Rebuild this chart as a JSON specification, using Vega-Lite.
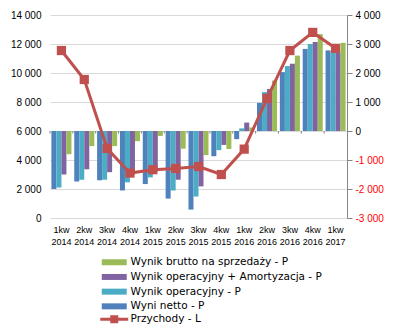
{
  "$schema": "https://vega.github.io/schema/vega-lite/v6.json",
  "autosize": {"type": "none"},
  "padding": {"left": 50, "top": 15, "right": 51, "bottom": 112},
  "width": 297,
  "height": 203,
  "background": "white",
  "config": {
    "view": {"stroke": null},
    "font": "Liberation Sans",
    "axis": {"labelFont": "Liberation Sans", "labelFontSize": 10, "labelColor": "#000000", "labelOverlap": false},
    "legend": {"labelFont": "DejaVu Sans", "labelFontSize": 10.5, "labelColor": "#000000", "labelLimit": 300}
  },
  "datasets": {
    "bars": [
      {"q": "1kw 2014", "s": "Wyni netto - P", "v": -2000},
      {"q": "1kw 2014", "s": "Wynik operacyjny - P", "v": -1950},
      {"q": "1kw 2014", "s": "Wynik operacyjny + Amortyzacja - P", "v": -1500},
      {"q": "1kw 2014", "s": "Wynik brutto na sprzedaży - P", "v": -800},
      {"q": "2kw 2014", "s": "Wyni netto - P", "v": -1740},
      {"q": "2kw 2014", "s": "Wynik operacyjny - P", "v": -1680},
      {"q": "2kw 2014", "s": "Wynik operacyjny + Amortyzacja - P", "v": -1320},
      {"q": "2kw 2014", "s": "Wynik brutto na sprzedaży - P", "v": -520},
      {"q": "3kw 2014", "s": "Wyni netto - P", "v": -1700},
      {"q": "3kw 2014", "s": "Wynik operacyjny - P", "v": -1680},
      {"q": "3kw 2014", "s": "Wynik operacyjny + Amortyzacja - P", "v": -1420},
      {"q": "3kw 2014", "s": "Wynik brutto na sprzedaży - P", "v": -520},
      {"q": "4kw 2014", "s": "Wyni netto - P", "v": -2050},
      {"q": "4kw 2014", "s": "Wynik operacyjny - P", "v": -1770},
      {"q": "4kw 2014", "s": "Wynik operacyjny + Amortyzacja - P", "v": -1500},
      {"q": "4kw 2014", "s": "Wynik brutto na sprzedaży - P", "v": -350},
      {"q": "1kw 2015", "s": "Wyni netto - P", "v": -1830},
      {"q": "1kw 2015", "s": "Wynik operacyjny - P", "v": -1600},
      {"q": "1kw 2015", "s": "Wynik operacyjny + Amortyzacja - P", "v": -1400},
      {"q": "1kw 2015", "s": "Wynik brutto na sprzedaży - P", "v": -170},
      {"q": "2kw 2015", "s": "Wyni netto - P", "v": -2330},
      {"q": "2kw 2015", "s": "Wynik operacyjny - P", "v": -2050},
      {"q": "2kw 2015", "s": "Wynik operacyjny + Amortyzacja - P", "v": -1680},
      {"q": "2kw 2015", "s": "Wynik brutto na sprzedaży - P", "v": -610},
      {"q": "3kw 2015", "s": "Wyni netto - P", "v": -2710},
      {"q": "3kw 2015", "s": "Wynik operacyjny - P", "v": -2260},
      {"q": "3kw 2015", "s": "Wynik operacyjny + Amortyzacja - P", "v": -1910},
      {"q": "3kw 2015", "s": "Wynik brutto na sprzedaży - P", "v": -830},
      {"q": "4kw 2015", "s": "Wyni netto - P", "v": -870},
      {"q": "4kw 2015", "s": "Wynik operacyjny - P", "v": -660},
      {"q": "4kw 2015", "s": "Wynik operacyjny + Amortyzacja - P", "v": -480},
      {"q": "4kw 2015", "s": "Wynik brutto na sprzedaży - P", "v": -620},
      {"q": "1kw 2016", "s": "Wyni netto - P", "v": -280},
      {"q": "1kw 2016", "s": "Wynik operacyjny - P", "v": 90},
      {"q": "1kw 2016", "s": "Wynik operacyjny + Amortyzacja - P", "v": 290},
      {"q": "1kw 2016", "s": "Wynik brutto na sprzedaży - P", "v": 120},
      {"q": "2kw 2016", "s": "Wyni netto - P", "v": 970},
      {"q": "2kw 2016", "s": "Wynik operacyjny - P", "v": 1340},
      {"q": "2kw 2016", "s": "Wynik operacyjny + Amortyzacja - P", "v": 1450},
      {"q": "2kw 2016", "s": "Wynik brutto na sprzedaży - P", "v": 1740},
      {"q": "3kw 2016", "s": "Wyni netto - P", "v": 2030},
      {"q": "3kw 2016", "s": "Wynik operacyjny - P", "v": 2240},
      {"q": "3kw 2016", "s": "Wynik operacyjny + Amortyzacja - P", "v": 2320},
      {"q": "3kw 2016", "s": "Wynik brutto na sprzedaży - P", "v": 2600},
      {"q": "4kw 2016", "s": "Wyni netto - P", "v": 2830},
      {"q": "4kw 2016", "s": "Wynik operacyjny - P", "v": 3000},
      {"q": "4kw 2016", "s": "Wynik operacyjny + Amortyzacja - P", "v": 3070},
      {"q": "4kw 2016", "s": "Wynik brutto na sprzedaży - P", "v": 3340},
      {"q": "1kw 2017", "s": "Wyni netto - P", "v": 2780},
      {"q": "1kw 2017", "s": "Wynik operacyjny - P", "v": 2700},
      {"q": "1kw 2017", "s": "Wynik operacyjny + Amortyzacja - P", "v": 2700},
      {"q": "1kw 2017", "s": "Wynik brutto na sprzedaży - P", "v": 3040}
    ],
    "line": [
      {"q": "1kw 2014", "s": "Przychody - L", "v": 11550},
      {"q": "2kw 2014", "s": "Przychody - L", "v": 9550},
      {"q": "3kw 2014", "s": "Przychody - L", "v": 4800},
      {"q": "4kw 2014", "s": "Przychody - L", "v": 3100},
      {"q": "1kw 2015", "s": "Przychody - L", "v": 3330},
      {"q": "2kw 2015", "s": "Przychody - L", "v": 3420},
      {"q": "3kw 2015", "s": "Przychody - L", "v": 3550},
      {"q": "4kw 2015", "s": "Przychody - L", "v": 3000},
      {"q": "1kw 2016", "s": "Przychody - L", "v": 4750},
      {"q": "2kw 2016", "s": "Przychody - L", "v": 8250},
      {"q": "3kw 2016", "s": "Przychody - L", "v": 11550},
      {"q": "4kw 2016", "s": "Przychody - L", "v": 12800},
      {"q": "1kw 2017", "s": "Przychody - L", "v": 11700}
    ]
  },
  "encoding": {
    "x": {
      "field": "q",
      "type": "nominal",
      "scale": {
        "domain": ["1kw 2014", "2kw 2014", "3kw 2014", "4kw 2014", "1kw 2015", "2kw 2015", "3kw 2015", "4kw 2015", "1kw 2016", "2kw 2016", "3kw 2016", "4kw 2016", "1kw 2017"],
        "paddingInner": 0,
        "paddingOuter": 0
      },
      "axis": {
        "title": null,
        "domain": false,
        "ticks": false,
        "labelAngle": 0,
        "labelFontSize": 9,
        "labelOverlap": false,
        "labelExpr": "split(datum.label, ' ')",
        "labelPadding": 7,
        "labelLineHeight": 12
      }
    }
  },
  "layer": [
    {
      "layer": [
        {
          "data": {"name": "bars"},
          "mark": {"type": "bar"},
          "encoding": {
            "xOffset": {
              "field": "s",
              "type": "nominal",
              "sort": ["Wyni netto - P", "Wynik operacyjny - P", "Wynik operacyjny + Amortyzacja - P", "Wynik brutto na sprzedaży - P"],
              "scale": {"paddingInner": 0, "paddingOuter": 0.28}
            },
            "y": {
              "field": "v",
              "type": "quantitative",
              "scale": {"domain": [-3000, 4000], "nice": false, "zero": false},
              "axis": {
                "orient": "right",
                "title": null,
                "values": [-3000, -2000, -1000, 0, 1000, 2000, 3000, 4000],
                "tickCount": 20,
                "labelOverlap": false,
                "grid": false,
                "domain": true,
                "domainColor": "#868686",
                "ticks": true,
                "tickColor": "#868686",
                "tickSize": 5,
                "labelPadding": 3,
                "labelExpr": "replace(replace(format(datum.value, ','), ',', ' '), '\u2212', '-')",
                "labelColor": {"condition": {"test": "datum.value < 0", "value": "#FF0000"}, "value": "#000000"}
              }
            },
            "color": {
              "field": "s",
              "type": "nominal",
              "scale": {
                "domain": ["Wynik brutto na sprzedaży - P", "Wynik operacyjny + Amortyzacja - P", "Wynik operacyjny - P", "Wyni netto - P"],
                "range": ["#9BBB59", "#8064A2", "#4BACC6", "#4F81BD"]
              },
              "legend": {
                "title": null,
                "orient": "none",
                "legendX": 59,
                "legendY": 242,
                "symbolType": "M-2.5,-0.6H2.5V0.6H-2.5Z",
                "symbolSize": 100,
                "symbolStrokeWidth": 0,
                "symbolOpacity": 1,
                "labelOffset": 11,
                "rowPadding": 3.7
              }
            }
          }
        },
        {
          "data": {"name": "line"},
          "mark": {"type": "rule", "color": "#868686", "strokeWidth": 1},
          "encoding": {"y": {"datum": 0, "type": "quantitative"}}
        },
        {
          "data": {"name": "line"},
          "mark": {"type": "rule", "color": "#868686", "strokeWidth": 1},
          "encoding": {
            "x": {"field": "q", "type": "nominal", "bandPosition": 0},
            "y": {"datum": 0, "type": "quantitative"},
            "y2": {"datum": -90}
          }
        }
      ]
    },
    {
      "data": {"name": "line"},
      "layer": [
        {
          "mark": {"type": "line", "color": "#C0504D", "strokeWidth": 3},
          "encoding": {
            "y": {
              "field": "v",
              "type": "quantitative",
              "scale": {"domain": [0, 14000], "nice": false},
              "axis": {
                "orient": "left",
                "title": null,
                "values": [0, 2000, 4000, 6000, 8000, 10000, 12000, 14000],
                "tickCount": 20,
                "labelOverlap": false,
                "grid": true,
                "gridColor": "#D9D9D9",
                "domain": false,
                "ticks": false,
                "tickSize": 0,
                "labelPadding": 9,
                "labelExpr": "replace(format(datum.value, ','), ',', ' ')"
              }
            }
          }
        },
        {
          "mark": {"type": "square", "size": 85, "opacity": 1},
          "encoding": {
            "y": {"field": "v", "type": "quantitative"},
            "fill": {
              "field": "s",
              "type": "nominal",
              "scale": {"range": ["#C0504D"]},
              "legend": {
                "title": null,
                "orient": "none",
                "legendX": 59,
                "legendY": 299,
                "symbolType": "M-2.8,-0.3H-0.8V-0.8H0.8V-0.3H2.8V0.3H0.8V0.8H-0.8V0.3H-2.8Z",
                "symbolSize": 100,
                "symbolStrokeWidth": 0,
                "symbolOpacity": 1,
                "labelOffset": 11
              }
            }
          }
        }
      ]
    }
  ],
  "resolve": {"scale": {"y": "independent"}}
}
